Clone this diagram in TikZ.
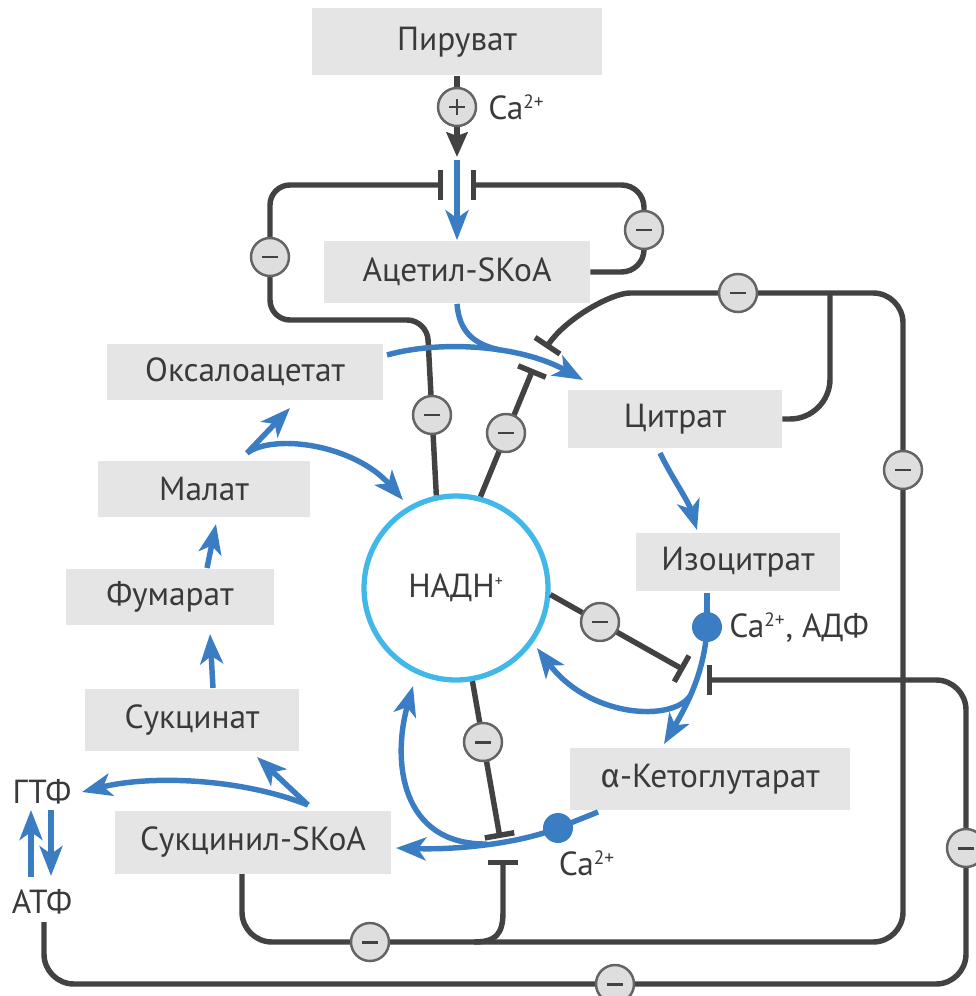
\documentclass[tikz,border=0pt]{standalone}
\usepackage{fontspec}
\setmainfont{PT Sans}
\newfontfamily\grfont{Fira Sans}
\usepackage{tikz}
\usetikzlibrary{positioning}
\usetikzlibrary{arrows.meta}
\definecolor{boxgray}{RGB}{229,229,229}
\definecolor{inkgray}{RGB}{66,66,66}
\definecolor{txtgray}{RGB}{58,58,58}
\definecolor{flowblue}{RGB}{59,125,194}
\definecolor{nadcyan}{RGB}{66,184,232}
\definecolor{signfill}{RGB}{222,222,222}
\definecolor{signline}{RGB}{100,100,100}
\newcommand{\chg}[1]{\textsuperscript{\fontsize{11}{11}\selectfont #1}}
\tikzset{met/.style = {fill=boxgray, text=txtgray, inner sep=0,
                       font=\fontsize{19}{22}\selectfont}}
\tikzset{lbl/.style = {text=txtgray, inner sep=0, font=\fontsize{19}{22}\selectfont}}
\tikzset{flow/.style = {draw=flowblue, line width=3.1pt,
                        -{Stealth[length=17pt,width=13pt,inset=4.5pt]}}}
\tikzset{link/.style = {draw=inkgray, line width=3.1pt}}
\tikzset{inh/.style = {link, -{Bar[width=17pt]}}}
\tikzset{minus/.style = {circle, fill=signfill, draw=signline, line width=1.4pt,
                         minimum size=0.76cm, inner sep=0,
                         path picture={\draw[inkgray, line width=1.7pt]
                           ([xshift=-4.5pt]path picture bounding box.center) --
                           ([xshift=4.5pt]path picture bounding box.center);}}}
\tikzset{plus/.style = {minus,
                        path picture={\draw[inkgray, line width=1.4pt]
                           ([xshift=-4.5pt]path picture bounding box.center) --
                           ([xshift=4.5pt]path picture bounding box.center)
                           ([yshift=-4.5pt]path picture bounding box.center) --
                           ([yshift=4.5pt]path picture bounding box.center);}}}
\tikzset{dot/.style = {circle, fill=flowblue, minimum size=0.6cm, inner sep=0}}

\begin{document}
\begin{tikzpicture}[x=0.02cm, y=-0.02cm]
  \useasboundingbox (0,0) rectangle (975,996);

  \node[met, minimum width=5.8cm, minimum height=1.34cm] (pyr) at (457,42) {Пируват};
  \node[met, minimum width=5.32cm, minimum height=1.26cm] (acet) at (457,272) {Ацетил-SKoA};
  \node[met, minimum width=5.52cm, minimum height=1.14cm] (oaa) at (245,372) {Оксалоацетат};
  \node[met, minimum width=4.24cm, minimum height=1.14cm] (mal) at (204,489) {Малат};
  \node[met, minimum width=4.16cm, minimum height=1.14cm] (fum) at (170,597) {Фумарат};
  \node[met, minimum width=4.3cm, minimum height=1.24cm] (succ) at (192,720) {Сукцинат};
  \node[met, minimum width=5.54cm, minimum height=1.26cm] (scoa) at (253,842) {Сукцинил-SKoA};
  \node[met, minimum width=4.28cm, minimum height=1.16cm] (cit) at (675,419) {Цитрат};
  \node[met, minimum width=4.1cm, minimum height=1.18cm] (iso) at (738,562) {Изоцитрат};
  \node[met, minimum width=5.6cm, minimum height=1.24cm] (akg) at (710,779) {{\grfont α}-Кетоглутарат};
  \node[lbl, circle, draw=nadcyan, line width=3pt, minimum size=3.68cm] (nad) at (456,588)
    {НАДН\textsuperscript{\fontsize{9}{9}\selectfont+}};

  \node[lbl] (gtp) at (42,792) {ГТФ};
  \node[lbl] (atp) at (42,902) {АТФ};
  \node[lbl, anchor=west] (ca1) at (488,107) {Ca\chg{2+}};
  \node[lbl, anchor=west] (ca2) at (729,628) {Ca\chg{2+}, АДФ};
  \node[lbl] (ca3) at (587,863) {Ca\chg{2+}};

  \coordinate (pdhin) at (457,157);
  \coordinate (pdhout) at (457,160);
  \coordinate (pdh1) at (443,185);
  \coordinate (pdh2) at (471,185);
  \coordinate (oaaout) at (387,355);
  \coordinate (citin) at (583,380);
  \coordinate (merge) at (500,350);
  \coordinate (cs1) at (546,348);
  \coordinate (cs2) at (533,369);
  \coordinate (topj) at (830,293);
  \coordinate (botj) at (474,942);
  \coordinate (scoaout) at (242,874);
  \coordinate (citout) at (660,453);
  \coordinate (isoin) at (697,530);
  \coordinate (isoout) at (707,593);
  \coordinate (akgin) at (664,744);
  \coordinate (idhj) at (690,696);
  \coordinate (idh1) at (684,670);
  \coordinate (idh2) at (707,680);
  \coordinate (nadin1) at (537,648);
  \coordinate (akgout) at (598,812);
  \coordinate (scoain) at (396,848);
  \coordinate (kgdj) at (487,844);
  \coordinate (nadin2) at (413,686);
  \coordinate (kgd1) at (500,838);
  \coordinate (kgd2) at (503,860);
  \coordinate (malout) at (247,453);
  \coordinate (oaain) at (290,408);
  \coordinate (nadin3) at (403,500);
  \coordinate (fumout) at (207,568);
  \coordinate (malin) at (216,524);
  \coordinate (succout) at (213,688);
  \coordinate (fumin) at (210,634);
  \coordinate (scoaup) at (308,805);
  \coordinate (succin) at (257,757);
  \coordinate (gtpin) at (82,792);
  \coordinate (atpout) at (44,922);
  \coordinate (gtpup) at (31,810);
  \coordinate (atpup) at (31,877);
  \coordinate (gtpdn) at (51,810);
  \coordinate (atpdn) at (51,876);

  \draw[link, -{Stealth[length=14pt,width=12pt,inset=2pt]}] (pyr.south) -- (pdhin);
  \draw[inh, rounded corners=0.4cm] (nad.102) -- (427,320) -- (270,320) -- (270,185) -- (pdh1);
  \draw[inh, rounded corners=0.45cm] (acet.east) -- (644,272) -- (644,185) -- (pdh2);
  \draw[inh, rounded corners=0.6cm] (scoaout) -- (242,942) -- (903,942) -- (903,293)
    -- (660,293) .. controls (612,293) and (566,318) .. (cs1);
  \draw[link, rounded corners=0.8cm] (cit.east) -- (830,419) -- (topj);
  \draw[inh] (nad.75) -- (cs2);
  \draw[inh] (botj) .. controls (495,942) and (503,935) .. (503,912) -- (kgd2);
  \draw[inh] (nad.-80) -- (kgd1);
  \draw[inh] (nad.-4) -- (idh1);
  \draw[inh, rounded corners=0.6cm] (atpout) -- (44,984) -- (966,984) -- (966,680) -- (idh2);

  \draw[flow] (pdhout) -- (acet.north);
  \draw[flow] (oaaout) .. controls (440,340) and (520,345) .. (citin);
  \draw[flow, -] (acet.south) .. controls (459,330) and (472,344) .. (merge);
  \draw[flow] (citout) .. controls (672,478) and (688,500) .. (isoin);
  \draw[flow, -] (isoout) -- (707,627);
  \draw[flow] (707,627) .. controls (705,668) and (690,700) .. (akgin);
  \draw[flow] (idhj) .. controls (672,722) and (590,718) .. (nadin1);
  \draw[flow, -] (akgout) -- (558,828);
  \draw[flow] (558,828) .. controls (520,843) and (460,850) .. (scoain);
  \draw[flow] (kgdj) .. controls (400,845) and (392,760) .. (nadin2);
  \draw[flow] (malout) -- (oaain);
  \draw[flow] (malout) .. controls (275,433) and (355,445) .. (nadin3);
  \draw[flow] (fumout) -- (malin);
  \draw[flow] (succout) -- (fumin);
  \draw[flow] (scoaup) -- (succin);
  \draw[flow] (scoaup) .. controls (240,778) and (150,775) .. (gtpin);
  \draw[flow, line width=3.6pt] (atpup) -- (gtpup);
  \draw[flow, line width=3.6pt] (gtpdn) -- (atpdn);

  \node[dot] (dot1) at (707,627) {};
  \node[dot] (dot2) at (558,828) {};
  \node[plus] (p1) at (457,107) {};
  \node[minus] (m1) at (270,257) {};
  \node[minus] (m2) at (644,230) {};
  \node[minus] (m3) at (738,293) {};
  \node[minus] (m4) at (432,415) {};
  \node[minus] (m5) at (506,433) {};
  \node[minus] (m6) at (903,470) {};
  \node[minus] (m7) at (600,622) {};
  \node[minus] (m8) at (483,742) {};
  \node[minus] (m9) at (370,942) {};
  \node[minus] (m10) at (966,848) {};
  \node[minus] (m11) at (615,984) {};
\end{tikzpicture}
\end{document}
